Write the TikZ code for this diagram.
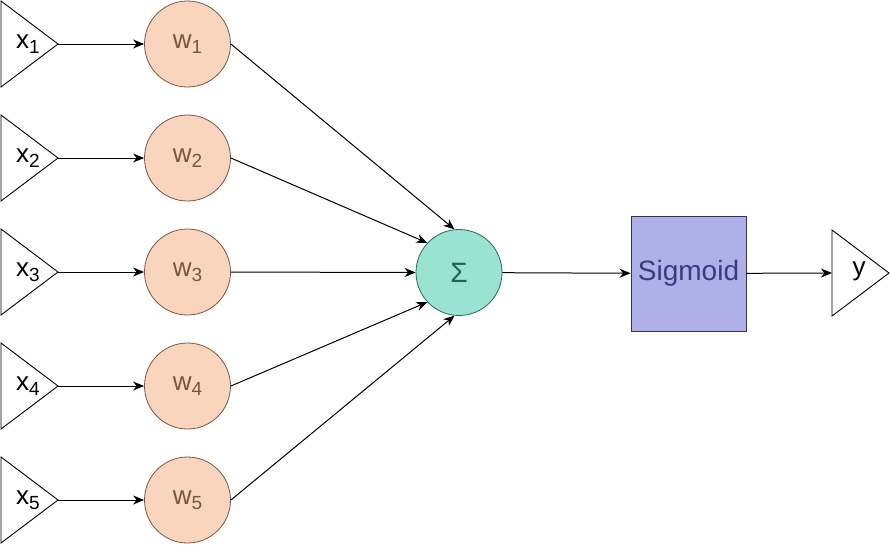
\documentclass[tikz,border=0pt]{standalone}
\usepackage{fontspec}
\setmainfont{Liberation Sans}
\usetikzlibrary{arrows.meta}
\definecolor{wfill}{RGB}{250,213,190}
\definecolor{wline}{RGB}{120,88,66}
\definecolor{wtext}{RGB}{118,86,64}
\definecolor{sfill}{RGB}{154,227,210}
\definecolor{sline}{RGB}{34,110,92}
\definecolor{stext}{RGB}{30,98,82}
\definecolor{gfill}{RGB}{176,176,232}
\definecolor{gline}{RGB}{50,50,90}
\definecolor{gtext}{RGB}{58,58,128}
\tikzset{
  conn/.style={line width=1pt, -{Stealth[length=11pt,width=9pt,inset=3.5pt]}},
  tri/.style={draw=black, line width=0.9pt, line join=miter},
  wnode/.style={circle, draw=wline, fill=wfill, line width=0.8pt, minimum size=86pt, inner sep=0pt, text=wtext, font=\fontsize{26}{30}\selectfont},
  snode/.style={circle, draw=sline, fill=sfill, line width=0.8pt, minimum size=86pt, inner sep=0pt, text=stext, font=\fontsize{28}{32}\selectfont},
  gnode/.style={rectangle, draw=gline, fill=gfill, line width=0.8pt, minimum size=115pt, inner sep=0pt, text=gtext, font=\fontsize{28}{32}\selectfont},
  lab/.style={inner sep=0pt, font=\fontsize{26}{30}\selectfont},
}
\newcommand{\subs}[1]{\raisebox{-5pt}{\fontsize{19}{22}\selectfont #1}}
\begin{document}
\begin{tikzpicture}[x=1pt,y=-1pt]
\useasboundingbox (0,0) rectangle (890,547);
% input triangles
\foreach \i/\yy in {1/44,2/158,3/272,4/386,5/500}{
  \draw[tri] (1,\yy-43) -- (58,\yy) -- (1,\yy+43) -- cycle;
  \coordinate (xt\i) at (58,\yy);
  \node[lab] (xl\i) at (28,\yy) {x\subs{\i}};
  \node[wnode] (w\i) at (187.5,\yy) {w\subs{\i}};
}
\node[snode] (s) at (459,272.5) {Σ};
\node[gnode] (g) at (688.5,273.5) {Sigmoid};
% output triangle
\draw[tri] (832,230) -- (889,273) -- (832,316) -- cycle;
\coordinate (yt) at (832,273);
\node[lab] (yl) at (859,271) {y};
% connectors
\foreach \i in {1,...,5}{
  \draw[conn] (xt\i) -- (w\i);
}
\draw[conn] (w1.east) -- (s.96);
\draw[conn] (w2.east) -- (s.137);
\draw[conn] (w3.east) -- (s.west);
\draw[conn] (w4.east) -- (s.223);
\draw[conn] (w5.east) -- (s.264);
\draw[conn] (s) -- (g);
\draw[conn] (g) -- (yt);
\end{tikzpicture}
\end{document}
